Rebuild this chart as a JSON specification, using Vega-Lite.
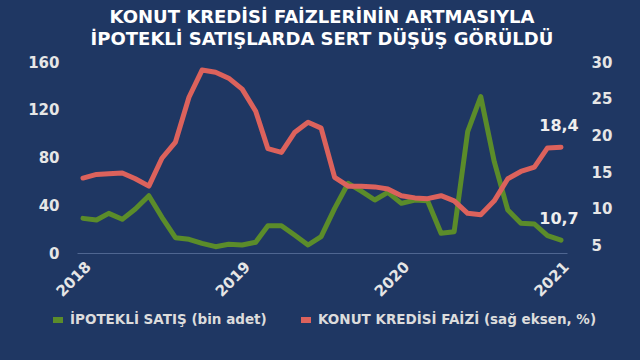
{
  "$schema": "https://vega.github.io/schema/vega-lite/v6.json",
  "width": 490,
  "height": 191,
  "padding": {"left": 27, "top": 9, "right": 28, "bottom": 30},
  "background": "#1f3763",
  "title": {
    "text": ["KONUT KREDİSİ FAİZLERİNİN ARTMASIYLA", "İPOTEKLİ SATIŞLARDA SERT DÜŞÜŞ GÖRÜLDÜ"],
    "anchor": "middle",
    "color": "#ffffff",
    "font": "DejaVu Sans",
    "fontWeight": "bold",
    "fontSize": 18,
    "lineHeight": 22,
    "offset": 6
  },
  "config": {
    "view": {"stroke": null},
    "locale": {"number": {"decimal": ",", "thousands": ".", "grouping": [3], "currency": ["", " TL"]}},
    "axis": {"labelFont": "DejaVu Sans", "labelFontWeight": "bold", "labelFontSize": 15, "labelColor": "#e6e6e6", "grid": false, "ticks": false, "domain": false, "title": null, "labelOverlap": false}
  },
  "data": {"values": [
    {"date": "2018-01-01", "satis": 29.0, "faiz": 14.2},
    {"date": "2018-02-01", "satis": 27.6, "faiz": 14.7},
    {"date": "2018-03-01", "satis": 33.2, "faiz": 14.8},
    {"date": "2018-04-01", "satis": 28.2, "faiz": 14.9},
    {"date": "2018-05-01", "satis": 36.9, "faiz": 14.1},
    {"date": "2018-06-01", "satis": 48.0, "faiz": 13.1},
    {"date": "2018-07-01", "satis": 29.9, "faiz": 16.9},
    {"date": "2018-08-01", "satis": 12.8, "faiz": 19.1},
    {"date": "2018-09-01", "satis": 11.5, "faiz": 25.2},
    {"date": "2018-10-01", "satis": 8.1, "faiz": 28.9},
    {"date": "2018-11-01", "satis": 5.3, "faiz": 28.6},
    {"date": "2018-12-01", "satis": 7.3, "faiz": 27.8},
    {"date": "2019-01-01", "satis": 6.7, "faiz": 26.3},
    {"date": "2019-02-01", "satis": 9.0, "faiz": 23.3},
    {"date": "2019-03-01", "satis": 22.9, "faiz": 18.2},
    {"date": "2019-04-01", "satis": 22.9, "faiz": 17.7},
    {"date": "2019-05-01", "satis": 15.1, "faiz": 20.4},
    {"date": "2019-06-01", "satis": 6.7, "faiz": 21.8},
    {"date": "2019-07-01", "satis": 13.7, "faiz": 21.0},
    {"date": "2019-08-01", "satis": 37.4, "faiz": 14.3},
    {"date": "2019-09-01", "satis": 58.4, "faiz": 13.1},
    {"date": "2019-10-01", "satis": 51.9, "faiz": 13.1},
    {"date": "2019-11-01", "satis": 44.4, "faiz": 13.0},
    {"date": "2019-12-01", "satis": 50.8, "faiz": 12.7},
    {"date": "2020-01-01", "satis": 41.6, "faiz": 11.8},
    {"date": "2020-02-01", "satis": 44.4, "faiz": 11.5},
    {"date": "2020-03-01", "satis": 43.8, "faiz": 11.4},
    {"date": "2020-04-01", "satis": 16.5, "faiz": 11.8},
    {"date": "2020-05-01", "satis": 17.8, "faiz": 11.1},
    {"date": "2020-06-01", "satis": 101.6, "faiz": 9.4},
    {"date": "2020-07-01", "satis": 131.0, "faiz": 9.2},
    {"date": "2020-08-01", "satis": 76.5, "faiz": 11.1},
    {"date": "2020-09-01", "satis": 36.0, "faiz": 14.1},
    {"date": "2020-10-01", "satis": 24.9, "faiz": 15.1},
    {"date": "2020-11-01", "satis": 24.3, "faiz": 15.7},
    {"date": "2020-12-01", "satis": 14.5, "faiz": 18.3},
    {"date": "2021-01-01", "satis": 10.7, "faiz": 18.4}
  ]},
  "encoding": {
    "x": {
      "field": "date", "type": "temporal",
      "scale": {"domain": ["2018-01-01", "2021-01-01"], "padding": 6},
      "axis": {
        "values": ["2018-01-01", "2019-01-01", "2020-01-01", "2021-01-01"],
        "format": "%Y", "labelAngle": -45, "labelPadding": 6,
        "domain": true, "domainColor": "#4f6691", "domainWidth": 1
      }
    }
  },
  "layer": [
    {
      "layer": [
        {
          "mark": {"type": "line", "strokeWidth": 5, "strokeJoin": "round", "strokeCap": "round"},
          "encoding": {
            "y": {"field": "satis", "type": "quantitative", "scale": {"domain": [0, 160]}, "axis": {"values": [0, 40, 80, 120, 160], "orient": "left", "labelPadding": 18, "labelOverlap": false}},
            "color": {
              "datum": "İPOTEKLİ SATIŞ (bin adet)",
              "scale": {"domain": ["İPOTEKLİ SATIŞ (bin adet)", "KONUT KREDİSİ FAİZİ (sağ eksen, %)"], "range": ["#5b8c2a", "#dc625c"]},
              "legend": {
                "orient": "none", "legendX": -27, "legendY": 250, "direction": "horizontal", "title": null,
                "symbolType": "stroke", "symbolSize": 100, "symbolStrokeWidth": 6,
                "labelFont": "DejaVu Sans", "labelFontWeight": "bold", "labelFontSize": 13.5, "labelColor": "#dcdcdc",
                "columnPadding": 22, "labelLimit": 400
              }
            }
          }
        },
        {
          "transform": [{"filter": "year(datum.date) == 2021"}],
          "mark": {"type": "text", "dy": -21, "dx": -2, "font": "DejaVu Sans", "fontWeight": "bold", "fontSize": 16, "color": "#eeeeee"},
          "encoding": {
            "y": {"field": "satis", "type": "quantitative", "axis": {"values": [0, 40, 80, 120, 160], "orient": "left", "labelPadding": 18, "labelOverlap": false}},
            "text": {"field": "satis", "type": "quantitative", "format": ".1f"}
          }
        }
      ]
    },
    {
      "layer": [
        {
          "mark": {"type": "line", "strokeWidth": 5, "strokeJoin": "round", "strokeCap": "round"},
          "encoding": {
            "y": {"field": "faiz", "type": "quantitative", "scale": {"domain": [5, 30]}, "axis": {"values": [5, 10, 15, 20, 25, 30], "orient": "right", "labelPadding": 24, "labelOverlap": false}},
            "color": {"datum": "KONUT KREDİSİ FAİZİ (sağ eksen, %)"}
          }
        },
        {
          "transform": [{"filter": "year(datum.date) == 2021"}],
          "mark": {"type": "text", "dy": -21, "dx": -2, "font": "DejaVu Sans", "fontWeight": "bold", "fontSize": 16, "color": "#eeeeee"},
          "encoding": {
            "y": {"field": "faiz", "type": "quantitative", "axis": {"values": [5, 10, 15, 20, 25, 30], "orient": "right", "labelPadding": 24, "labelOverlap": false}},
            "text": {"field": "faiz", "type": "quantitative", "format": ".1f"}
          }
        }
      ]
    }
  ],
  "resolve": {"scale": {"y": "independent"}}
}
